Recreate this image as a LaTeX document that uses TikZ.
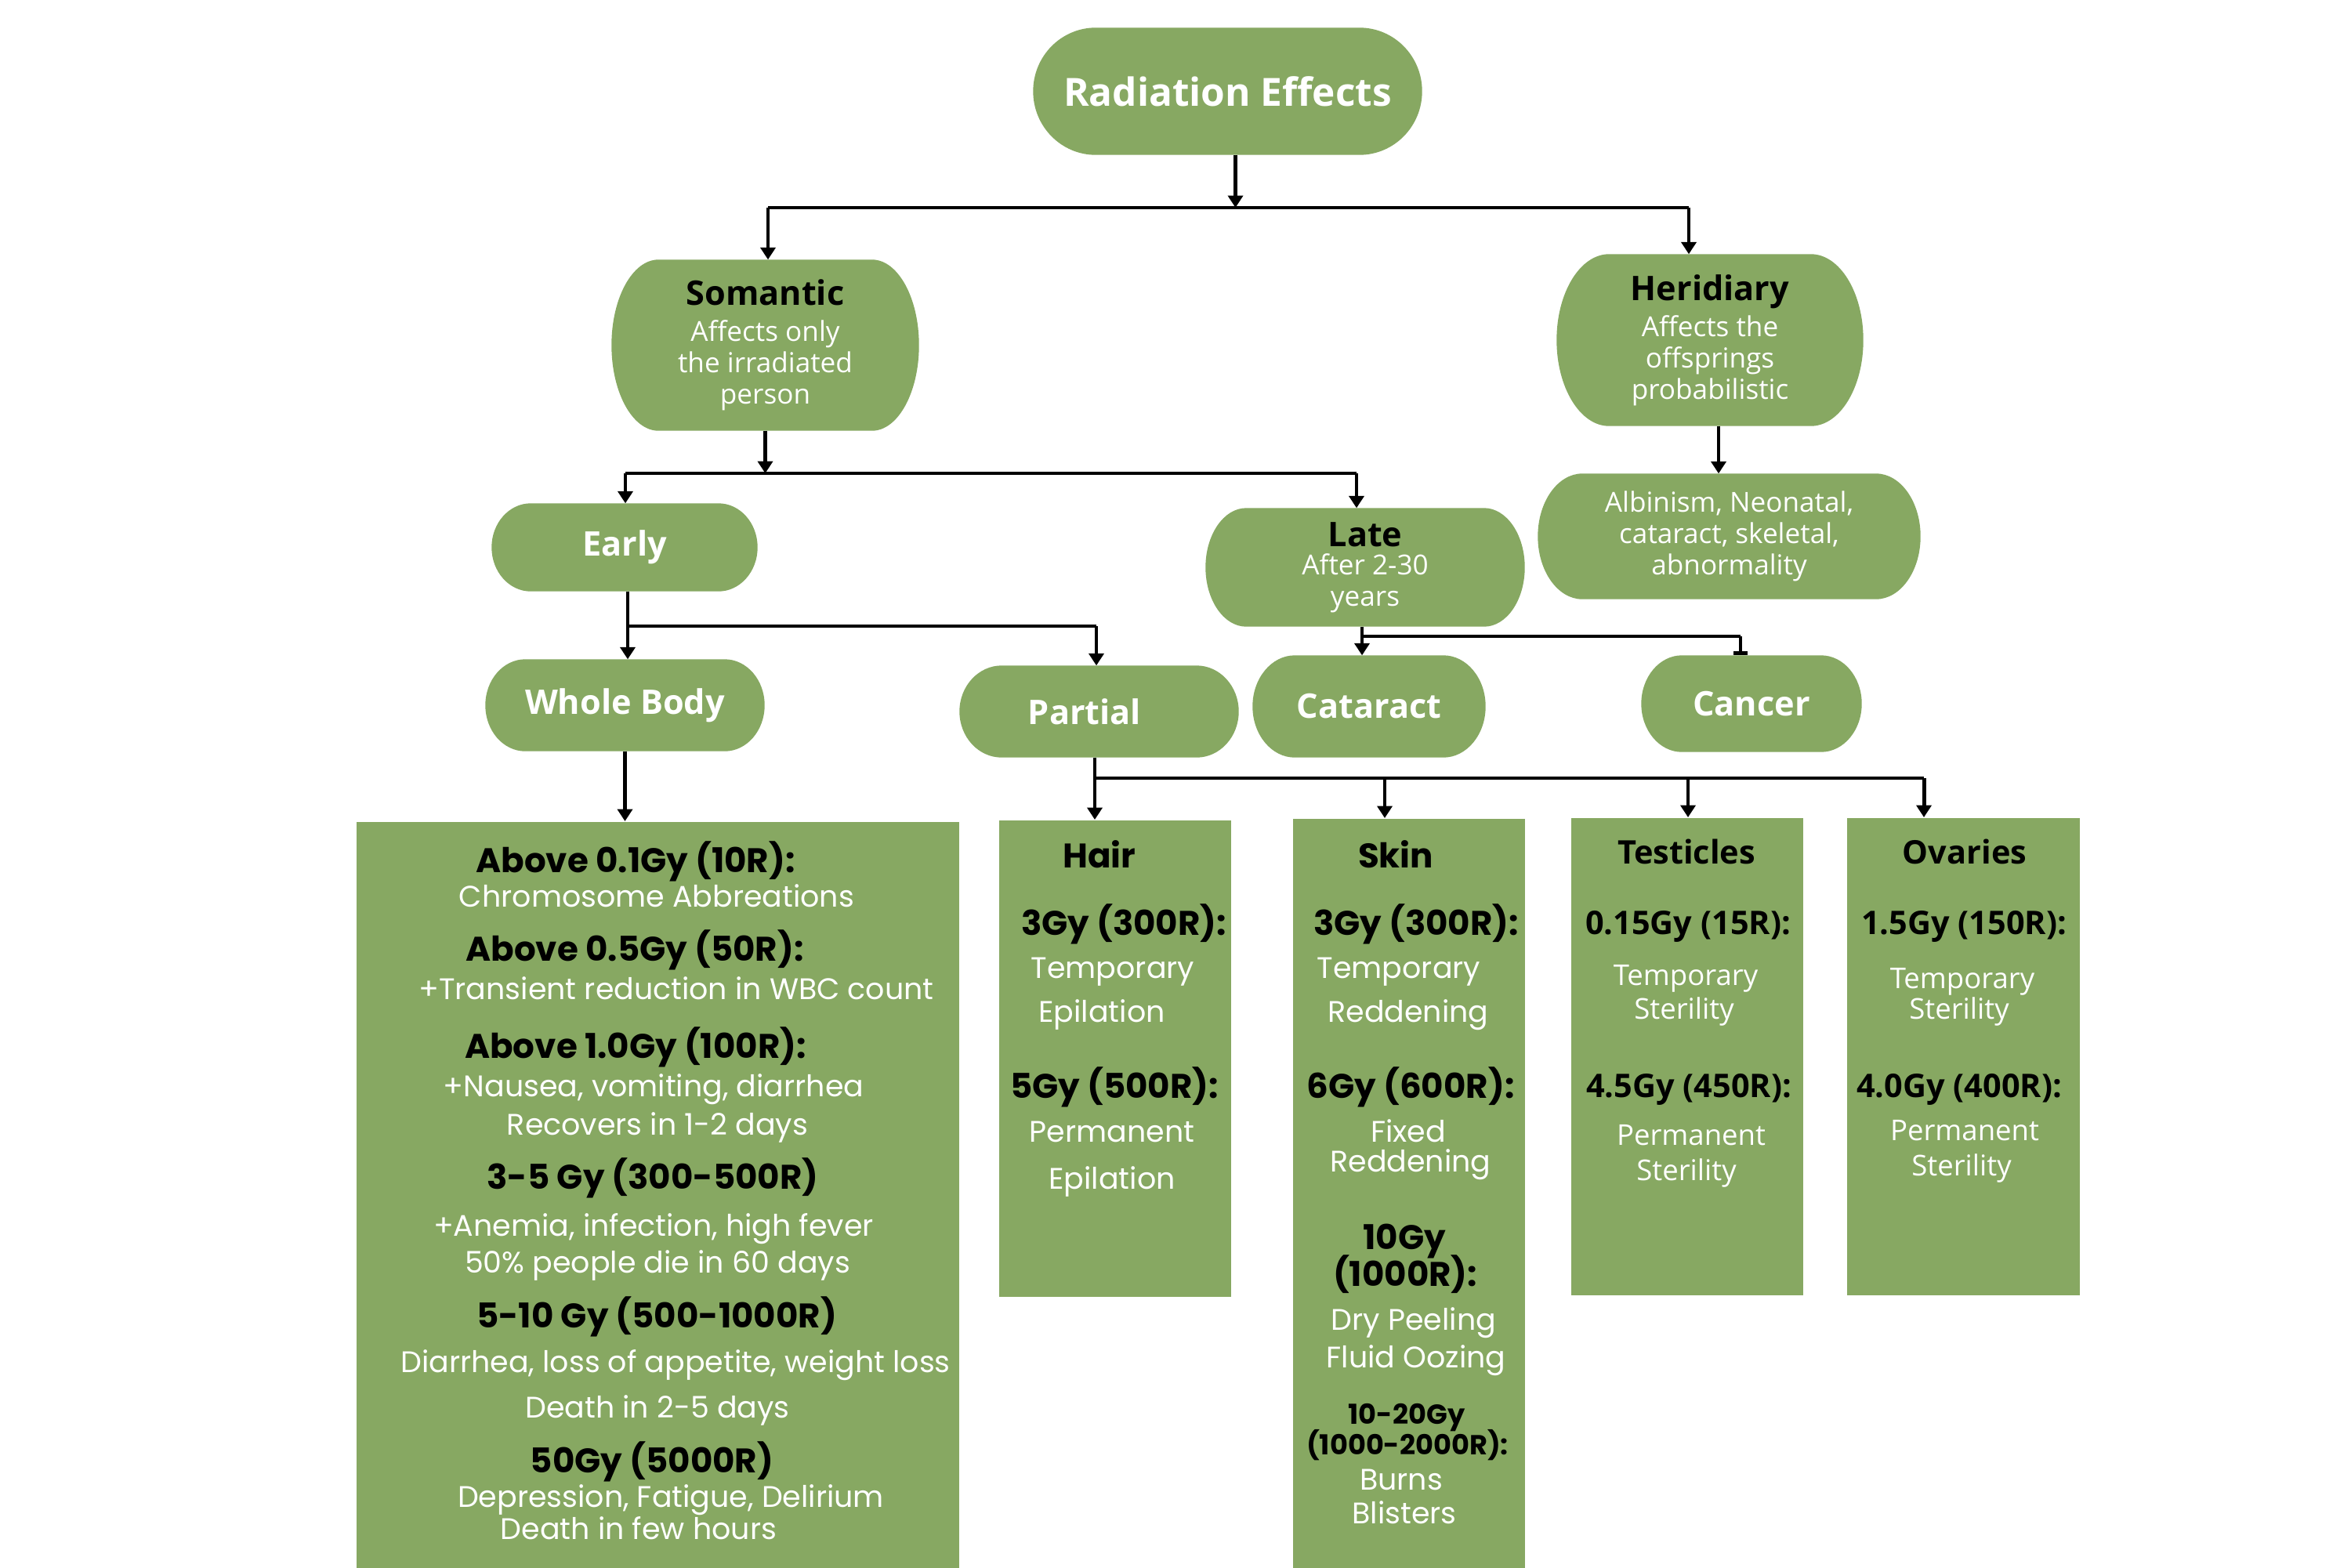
\documentclass[tikz,border=0pt]{standalone}
\usepackage{fontspec}
\setmainfont{Open Sans}
\newfontfamily\popf{Poppins}
\usetikzlibrary{arrows.meta, calc, backgrounds}

\definecolor{leaf}{RGB}{135,168,98}

% black title line inside a pill
\newcommand{\ttl}[1]{{\color{black}\bfseries\fontsize{12.3}{14}\selectfont #1}}

% pill behind a node: flat top and bottom, half-ellipse sides
\newcommand{\pillbg}[2]{%
  \fill[leaf] let \p1=(#1.north west), \p2=(#1.south east), \n1={(\y1-\y2)/2} in
    (\x1+#2cm,\y1) -- (\x2-#2cm,\y1)
    arc[start angle=90, end angle=-90, x radius=#2cm, y radius=\n1]
    -- (\x1+#2cm,\y2)
    arc[start angle=270, end angle=90, x radius=#2cm, y radius=\n1] -- cycle;}

\begin{document}
\begin{tikzpicture}[
  pill/.style = {rectangle, inner sep=0pt, align=center, text=white, font=\fontsize{10}{11.4}\selectfont},
  big/.style = {font=\bfseries\fontsize{12.3}{14}\selectfont},
  panel/.style = {rectangle, fill=leaf, inner sep=0pt, anchor=north west},
  hd/.style = {anchor=base, yshift=-1.55mm, inner sep=0pt, text=black, font=\popf\bfseries\fontsize{12.4}{14}\selectfont},
  hds/.style = {hd, yshift=0.3mm, font=\popf\bfseries\fontsize{10}{12}\selectfont},
  tx/.style = {anchor=base, yshift=-1.35mm, inner sep=0pt, text=white, font=\popf\fontsize{10.8}{13}\selectfont},
  hdi/.style = {anchor=base, yshift=-1.5mm, inner sep=0pt, text=black, font=\bfseries\fontsize{11.8}{14}\selectfont},
  txi/.style = {anchor=base, yshift=-1.3mm, inner sep=0pt, text=white, font=\fontsize{10.4}{12}\selectfont},
  wire/.style = {line width=1.4pt},
  arr/.style = {wire, -{Triangle[width=5.4pt, length=4.4pt]}}
]
\useasboundingbox (0,0) rectangle (30,-20);

% Pills
\node[pill, font=\bfseries\fontsize{14.1}{16}\selectfont, minimum width=4.95cm, minimum height=1.61cm] (root) at (15.665,-1.165) {Radiation Effects};
\node[pill, minimum width=3.91cm, minimum height=2.17cm] (som) at (9.765,-4.405) {\ttl{Somantic}\\[1.7pt] Affects only\\ the irradiated\\ person};
\node[pill, minimum width=3.90cm, minimum height=2.18cm] (her) at (21.82,-4.34) {\ttl{Heridiary}\\[1.7pt] Affects the\\ offsprings\\ probabilistic};
\node[pill, minimum width=4.87cm, minimum height=1.59cm] (alb) at (22.065,-6.845) {Albinism, Neonatal,\\ cataract, skeletal,\\ abnormality};
\node[pill, big, minimum width=3.38cm, minimum height=1.11cm] (early) at (7.97,-6.985) {Early};
\node[pill, minimum width=4.06cm, minimum height=1.50cm] (late) at (17.42,-7.24) {\ttl{Late}\\[-1.2pt] After 2-30\\ years};
\node[pill, big, minimum width=3.55cm, minimum height=1.16cm] (whole) at (7.975,-9.0) {Whole Body};
\node[pill, big, minimum width=3.55cm, minimum height=1.16cm] (partial) at (14.025,-9.08) {Partial\hspace*{0.37cm}};
\node[pill, big, minimum width=2.96cm, minimum height=1.29cm] (cataract) at (17.47,-9.015) {Cataract};
\node[pill, big, minimum width=2.80cm, minimum height=1.22cm] (cancer) at (22.35,-8.98) {Cancer};

\begin{scope}[on background layer]
  \fill[white] (0,0) rectangle (30,-20);
  \foreach \nd/\rx in {root/0.8, som/0.6, her/0.67, alb/0.57, early/0.5, late/0.52, whole/0.51, partial/0.54, cataract/0.54, cancer/0.52}
    {\pillbg{\nd}{\rx}}
\end{scope}

% Panels
\node[panel, minimum width=7.69cm, minimum height=9.52cm] (wbbox) at (4.54,-10.48) {};
\node[panel, minimum width=2.96cm, minimum height=6.08cm] (hairbox) at (12.74,-10.46) {};
\node[panel, minimum width=2.96cm, minimum height=9.56cm] (skinbox) at (16.49,-10.44) {};
\node[panel, minimum width=2.96cm, minimum height=6.09cm] (testbox) at (20.04,-10.43) {};
\node[panel, minimum width=2.97cm, minimum height=6.09cm] (ovarbox) at (23.56,-10.43) {};

% Whole body doses
\foreach \x/\y/\s/\t [count=\i] in {
  8.11/10.98/hd/{Above 0.1Gy (10R):},
  8.38/11.44/tx/{Chromosome Abbreations},
  8.10/12.11/hd/{Above 0.5Gy (50R):},
  8.63/12.62/tx/{+Transient reduction in WBC count},
  8.11/13.35/hd/{Above 1.0Gy (100R):},
  8.34/13.86/tx/{+Nausea, vomiting, diarrhea},
  8.39/14.35/tx/{Recovers in 1-2 days},
  8.33/15.02/hd/{3-5 Gy (300-500R)},
  8.34/15.64/tx/{+Anemia, infection, high fever},
  8.39/16.11/tx/{50\% people die in 60 days},
  8.38/16.79/hd/{5-10 Gy (500-1000R)},
  8.62/17.38/tx/{Diarrhea, loss of appetite, weight loss},
  8.39/17.96/tx/{Death in 2-5 days},
  8.32/18.64/hd/{50Gy (5000R)},
  8.56/19.10/tx/{Depression, Fatigue, Delirium},
  8.15/19.51/tx/{Death in few hours}}
  \node[\s] (wb\i) at (\x,-\y) {\t};

% Hair
\foreach \x/\y/\s/\t [count=\i] in {
  14.03/10.92/hd/{Hair},
  14.34/11.78/hd/{3Gy (300R):},
  14.20/12.35/tx/{Temporary},
  14.06/12.91/tx/{Epilation},
  14.22/13.86/hd/{5Gy (500R):},
  14.19/14.44/tx/{Permanent},
  14.19/15.04/tx/{Epilation}}
  \node[\s] (hair\i) at (\x,-\y) {\t};

% Skin
\foreach \x/\y/\s/\t [count=\i] in {
  17.81/10.92/hd/{Skin},
  18.07/11.78/hd/{3Gy (300R):},
  17.85/12.35/tx/{Temporary},
  17.97/12.91/tx/{Reddening},
  18.00/13.86/hd/{6Gy (600R):},
  17.97/14.44/tx/{Fixed},
  18.00/14.82/tx/{Reddening},
  17.92/15.79/hd/{10Gy},
  17.93/16.26/hd/{(1000R):},
  18.04/16.84/tx/{Dry Peeling},
  18.07/17.32/tx/{Fluid Oozing},
  17.95/18.05/hds/{10-20Gy},
  17.96/18.44/hds/{(1000-2000R):},
  17.88/18.88/tx/{Burns},
  17.92/19.31/tx/{Blisters}}
  \node[\s] (skin\i) at (\x,-\y) {\t};

% Testicles
\foreach \x/\y/\s/\t [count=\i] in {
  21.52/10.87/hdi/{Testicles},
  21.54/11.77/hdi/{0.15Gy (15R):},
  21.51/12.44/txi/{Temporary},
  21.49/12.87/txi/{Sterility},
  21.55/13.85/hdi/{4.5Gy (450R):},
  21.58/14.48/txi/{Permanent},
  21.52/14.93/txi/{Sterility}}
  \node[\s] (test\i) at (\x,-\y) {\t};

% Ovaries
\foreach \x/\y/\s/\t [count=\i] in {
  25.07/10.87/hdi/{Ovaries},
  25.06/11.77/hdi/{1.5Gy (150R):},
  25.04/12.48/txi/{Temporary},
  25.00/12.87/txi/{Sterility},
  25.00/13.85/hdi/{4.0Gy (400R):},
  25.07/14.42/txi/{Permanent},
  25.03/14.87/txi/{Sterility}}
  \node[\s] (ovar\i) at (\x,-\y) {\t};

% Root to somatic / hereditary
\coordinate (b1l) at (9.80,-2.65);
\coordinate (b1r) at (21.55,-2.65);
\draw[arr] ([xshift=1mm]root.south) -- ([xshift=1mm]root.south |- b1l);
\draw[wire] (b1l) -- (b1r);
\draw[arr] (b1l) -- (b1l |- som.north);
\draw[arr] (b1r) -- (b1r |- her.north);
\draw[arr] ([xshift=1.1mm]her.south) -- ([xshift=1.1mm]her.south |- alb.north);

% Somatic to early / late
\coordinate (b2l) at (7.98,-6.04);
\coordinate (b2r) at (17.31,-6.04);
\draw[arr] (som.south) -- (som.south |- b2l);
\draw[wire] (b2l) -- (b2r);
\draw[arr] (b2l) -- (b2l |- early.north);
\draw[arr] (b2r) -- (b2r |- late.north);

% Early to whole body / partial
\coordinate (b3l) at (8.01,-7.99);
\coordinate (b3r) at (13.99,-7.99);
\draw[arr] (early.south -| b3l) -- (b3l |- whole.north);
\draw[wire] (b3l) -- (b3r);
\draw[arr] (b3r) -- (b3r |- partial.north);

% Late to cataract / cancer
\coordinate (b4l) at (17.38,-8.12);
\coordinate (b4r) at (22.21,-8.12);
\draw[arr] (late.south -| b4l) -- (b4l |- cataract.north);
\draw[wire] (b4l) -- (b4r);
\draw[wire, -{Bar[width=5pt]}] (b4r) -- (b4r |- cancer.north);

% Whole body to its doses
\draw[arr] (whole.south) -- (whole.south |- wbbox.north);

% Partial to organs
\coordinate (b5l) at (13.97,-9.93);
\coordinate (b5a) at (17.67,-9.93);
\coordinate (b5b) at (21.54,-9.93);
\coordinate (b5r) at (24.55,-9.93);
\draw[arr] (partial.south -| b5l) -- (b5l |- hairbox.north);
\draw[wire] (b5l) -- (b5r);
\draw[arr] (b5a) -- (b5a |- skinbox.north);
\draw[arr] (b5b) -- (b5b |- testbox.north);
\draw[arr] (b5r) -- (b5r |- ovarbox.north);

\end{tikzpicture}
\end{document}
